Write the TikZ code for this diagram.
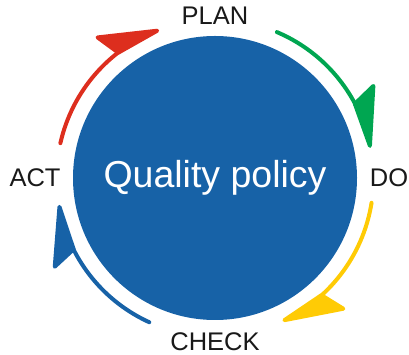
\documentclass[tikz,border=0pt]{standalone}
\usepackage{fontspec}
\setmainfont{Liberation Sans}
\usetikzlibrary{arrows.meta,bending,positioning}

\begin{document}
\begin{tikzpicture}
\definecolor{policyBlue}{RGB}{23, 98, 167}
			\definecolor{planRed}{RGB}{221, 46, 30}
			\definecolor{doGreen}{RGB}{0, 166, 81}
			\definecolor{checkYellow}{RGB}{255, 203, 5}
			\tikzstyle{stage}=[text=black!90, inner sep=0pt, font=\fontsize{25.5}{30}\selectfont]
			\tikzstyle{cycle}=[line width=4pt, line cap=round, -{Stealth[harpoon, length=64pt, width=54pt, inset=12pt, round, flex]}]

			\useasboundingbox (0pt,0pt) rectangle (409pt,355pt);

			\node [circle, fill=policyBlue, minimum size=284pt, inner sep=0pt, text=white, font=\fontsize{37.5}{40}\selectfont] (policy) at (215pt,177pt) {Quality policy};

			\node [stage] (plan) at (215pt,339pt) {PLAN};
			\node [stage] (do) at (389pt,177pt) {DO};
			\node [stage] (check) at (215pt,13pt) {CHECK};
			\node [stage] (act) at (35pt,177pt) {ACT};

			\draw [cycle, planRed] ([shift={(167.3:158.5pt)}]policy.center) arc [start angle=167.3, end angle=110.7, radius=158.5pt];
			\draw [cycle, doGreen] ([shift={(67:158.5pt)}]policy.center) arc [start angle=67, end angle=11, radius=158.5pt];
			\draw [cycle, checkYellow] ([shift={(-9:158.5pt)}]policy.center) arc [start angle=-9, end angle=-64.7, radius=158.5pt];
			\draw [cycle, policyBlue] ([shift={(-114.5:158.5pt)}]policy.center) arc [start angle=-114.5, end angle=-170.2, radius=158.5pt];
		\end{tikzpicture}
\end{document}
